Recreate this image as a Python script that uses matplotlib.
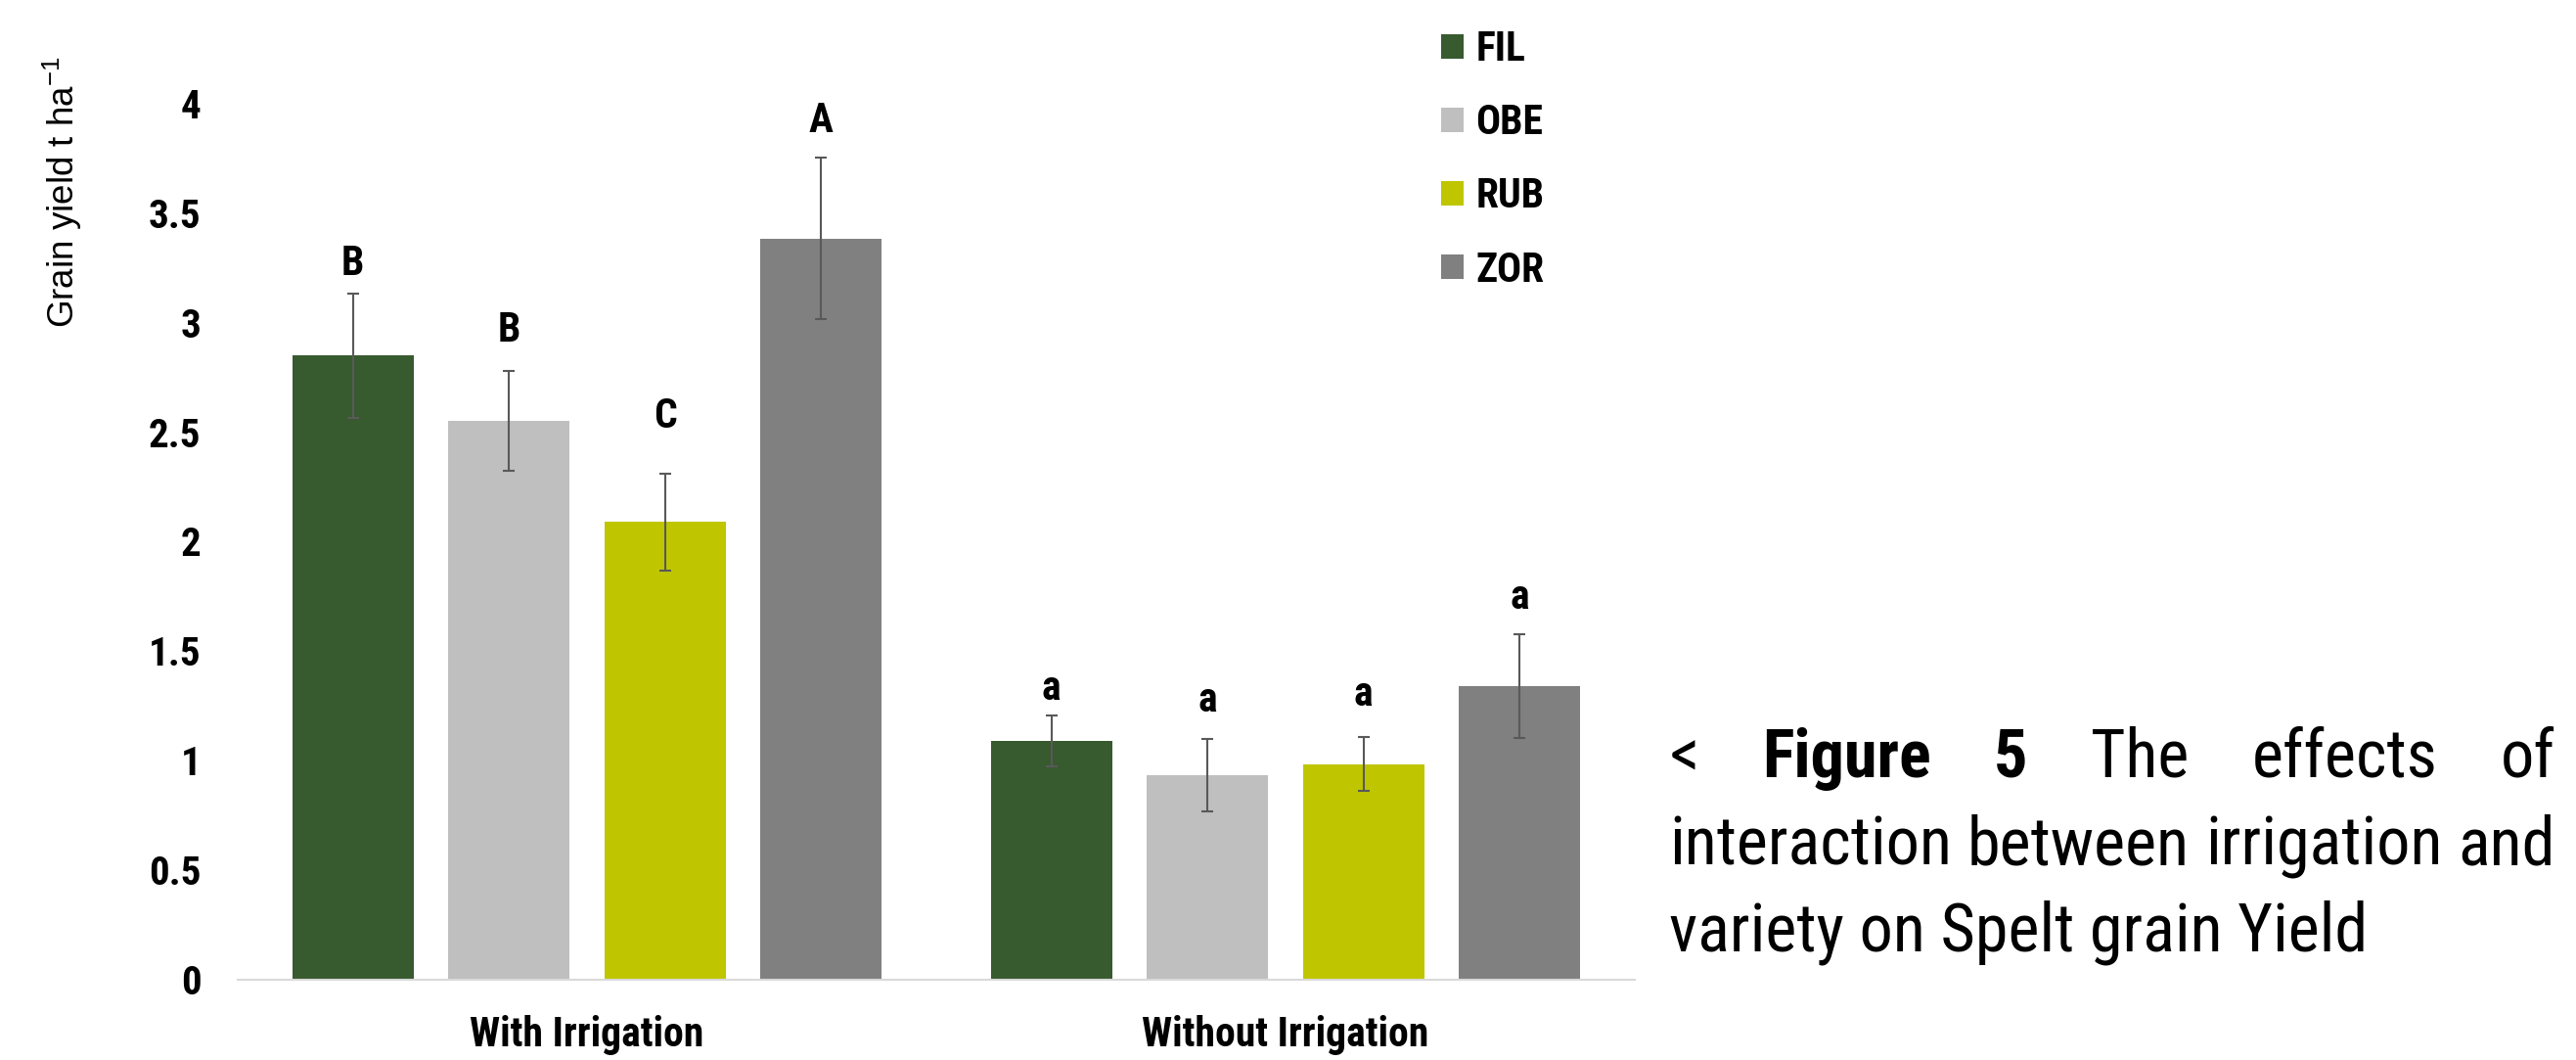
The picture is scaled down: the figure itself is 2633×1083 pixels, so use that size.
import matplotlib
matplotlib.use('Agg')
import matplotlib.pyplot as plt
from matplotlib import font_manager
import numpy as np

# Grain yield (t/ha) by irrigation treatment and spelt variety
groups = ['With Irrigation', 'Without Irrigation']
varieties = ['FIL', 'OBE', 'RUB', 'ZOR']
colors = ['#375a2f', '#bfbfbf', '#bfc600', '#808080']

fil = [2.85, 1.09]
obe = [2.55, 0.935]
rub = [2.09, 0.985]
zor = [3.385, 1.34]
fil_err = [0.285, 0.116]
obe_err = [0.228, 0.165]
rub_err = [0.222, 0.123]
zor_err = [0.37, 0.238]

# significance letters and the height of their baselines
letters_with = ['B', 'B', 'C', 'A']
letters_without = ['a', 'a', 'a', 'a']
letter_y_with = [3.22, 2.915, 2.52, 3.87]
letter_y_without = [1.277, 1.226, 1.251, 1.694]

yticks = [0, 0.5, 1, 1.5, 2, 2.5, 3, 3.5, 4]
ytick_labels = ['0', '0.5', '1', '1.5', '2', '2.5', '3', '3.5', '4']

# pick a narrow sans if one is around
installed = {f.name for f in font_manager.fontManager.ttflist}
narrow_name = 'Liberation Sans'
for cand in ['Liberation Sans Narrow', 'Arial Narrow', 'Roboto Condensed',
             'Noto Sans Condensed', 'Open Sans Condensed']:
    if cand in installed:
        narrow_name = cand
        break
narrow = [narrow_name, 'DejaVu Sans']
plt.rcParams['font.family'] = narrow

W, H = 2633, 1083
fig = plt.figure(figsize=(W / 100, H / 100), dpi=100)
ax = fig.add_axes([243 / W, 1 - 1001 / H, 1428 / W, 895 / H])

x = np.arange(len(groups))
pitch = 0.2234
width = 0.174
series = [fil, obe, rub, zor]
errs = [fil_err, obe_err, rub_err, zor_err]
for i, (vals, err) in enumerate(zip(series, errs)):
    pos = x + (i - 1.5) * pitch
    ax.bar(pos, vals, width, color=colors[i], label=varieties[i], zorder=2)
    ax.errorbar(pos, vals, yerr=err, fmt='none', ecolor='#595959',
                elinewidth=1.5, capsize=4.3, capthick=1.5, zorder=3)
    lab_y = [letter_y_with[i], letter_y_without[i]]
    labs = [letters_with[i], letters_without[i]]
    for px, py, t in zip(pos, lab_y, labs):
        ax.text(px, py, t, ha='center', va='baseline', fontsize=30,
                fontweight='bold', clip_on=False)

ax.set_xlim(-0.5, 1.5)
ax.set_ylim(0, 4)
ax.set_xticks(x)
ax.set_xticklabels(groups, fontsize=30, fontweight='bold')
ax.set_yticks(yticks)
ax.set_yticklabels(ytick_labels, fontsize=29.5, fontweight='bold')
ax.tick_params(axis='y', length=0, pad=27)
ax.tick_params(axis='x', length=0, pad=26)
for side in ['left', 'right', 'top']:
    ax.spines[side].set_visible(False)
ax.spines['bottom'].set_color('#d9d9d9')
ax.spines['bottom'].set_linewidth(1.5)

fig.text(64 / W, 1 - 57 / H, r'Grain yield t ha$^{\mathregular{-1}}$',
         rotation=90, ha='center', va='top', fontsize=26.5,
         family=['Liberation Sans', 'DejaVu Sans'])

fig.legend(loc='upper left', bbox_to_anchor=(1473 / W, 1 - 30 / H),
           frameon=False, prop={'weight': 'bold', 'size': 30},
           handlelength=0.55, handleheight=0.55, handletextpad=0.3,
           labelspacing=0.82, borderpad=0, borderaxespad=0)

# justified caption to the right of the chart
fig.canvas.draw()
renderer = fig.canvas.get_renderer()
cap_left, cap_right = 1706, 2612
probe = fig.text(0, 0, 'interaction between irrigation and', fontsize=54)
cap_size = min(54, 54 * (cap_right - cap_left) / probe.get_window_extent(renderer).width)
probe.remove()

caption = [
    [('<', 'normal'), ('Figure', 'bold'), ('5', 'bold'), ('The', 'normal'),
     ('effects', 'normal'), ('of', 'normal')],
    [('interaction', 'normal'), ('between', 'normal'), ('irrigation', 'normal'),
     ('and', 'normal')],
    [('variety on Spelt grain Yield', 'normal')],
]
baselines = [794, 883, 972]
for words, base in zip(caption, baselines):
    items = [fig.text(0, 1 - base / H, w, fontsize=cap_size, fontweight=wt,
                      va='baseline', ha='left') for w, wt in words]
    widths = [t.get_window_extent(renderer).width for t in items]
    if len(items) > 1:
        gap = (cap_right - cap_left - sum(widths)) / (len(items) - 1)
    else:
        gap = 0
    xpos = cap_left
    for t, wdt in zip(items, widths):
        t.set_x(xpos / W)
        xpos += wdt + gap

fig.savefig('out.png', dpi=100, facecolor='white')
